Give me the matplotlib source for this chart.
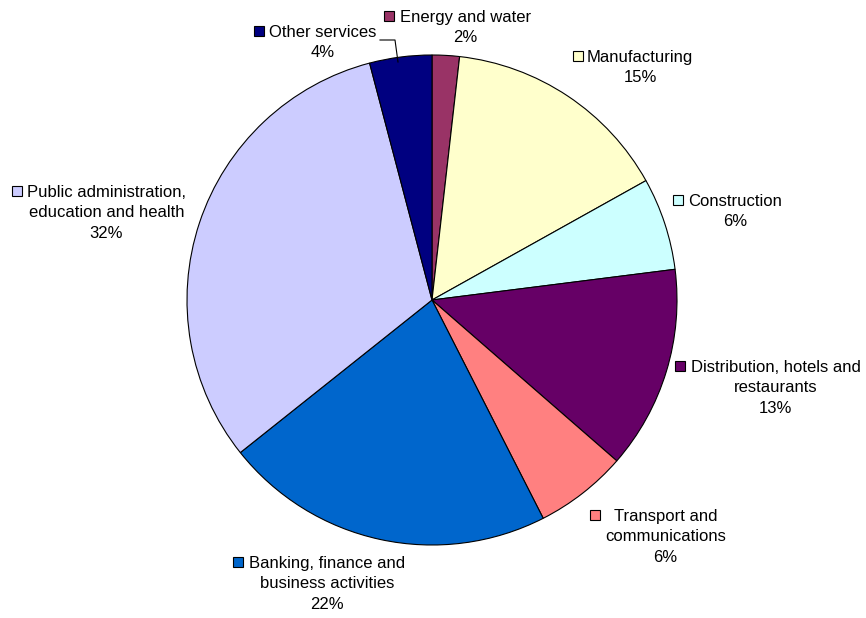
import matplotlib.pyplot as plt
from matplotlib.patches import Rectangle

# Sector shares (per cent of total)
sectors = ["Energy and water", "Manufacturing", "Construction",
           "Distribution, hotels and\nrestaurants", "Transport and\ncommunications",
           "Banking, finance and\nbusiness activities",
           "Public administration,\neducation and health", "Other services"]
shares = [1.8, 15.1, 6.1, 13.4, 6.1, 21.8, 31.6, 4.1]
colors = ["#993366", "#FFFFCC", "#CCFFFF", "#660066", "#FF8080",
          "#0066CC", "#CCCCFF", "#000080"]

# label block anchor: left edge of the text block, top of the first line (pixels)
label_pos = [(400, 10), (587, 50), (688, 194), (691, 360), (605, 509),
             (249, 556), (27, 185), (269, 25)]
# square key: left edge of the key
key_x = [384, 573, 673, 675, 590, 233, 12, 254]

plt.rcParams["font.family"] = ["Liberation Sans", "DejaVu Sans"]

W, H = 866, 618
fig = plt.figure(figsize=(W / 100, H / 100), dpi=100)
ax = fig.add_axes([0, 0, 1, 1])

ax.pie(shares, colors=colors, center=(432, 300), radius=245,
       startangle=-90, counterclock=True,
       wedgeprops=dict(edgecolor="black", linewidth=0.8))

# pie() resets the limits, so fix the pixel frame afterwards (y grows downward)
ax.set_xlim(0, W)
ax.set_ylim(H, 0)
ax.set_aspect("equal")
ax.axis("off")

total = sum(shares)
for name, val, col, (tx, ty), kx in zip(sectors, shares, colors, label_pos, key_x):
    ax.text(tx, ty, f"{name}\n{round(val / total * 100)}%", ha="left", va="top",
            multialignment="center", fontsize=12, linespacing=1.45, color="black")
    ax.add_patch(Rectangle((kx, ty + 1), 10, 10, facecolor=col,
                           edgecolor="black", linewidth=0.8))

# leader line for the small "Other services" slice
ax.plot([380, 395, 398], [40, 40, 62], color="black", linewidth=0.8)

fig.savefig("out.png", dpi=100, facecolor="white")
